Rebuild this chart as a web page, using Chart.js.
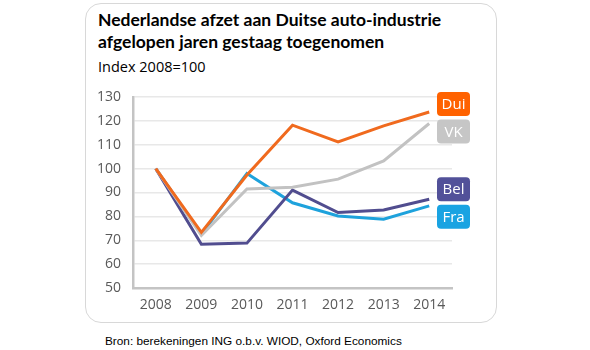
<!DOCTYPE html>
<html>
<head>
<meta charset="utf-8">
<script src="https://cdn.jsdelivr.net/npm/chart.js@4"></script>
<style>
  html, body { margin: 0; padding: 0; background: #fff; }
  body { width: 590px; height: 350px; position: relative; overflow: hidden; }
  .card {
    position: absolute; left: 85px; top: 3px; width: 410px; height: 318px;
    border: 1px solid #d8d8d8; border-radius: 16px; box-sizing: content-box;
  }
  .title {
    position: absolute; left: 98px; top: 9px; margin: 0; white-space: nowrap;
    font-family: Lato, sans-serif; font-weight: bold; font-size: 17.5px;
    line-height: 22px; color: #000;
  }
  .sub {
    position: absolute; left: 98px; top: 57px;
    font-family: "Open Sans", sans-serif; font-size: 14.5px; color: #000;
  }
  .source {
    position: absolute; left: 105px; top: 334px;
    font-family: "Liberation Sans", Arial, sans-serif; font-size: 11.8px; color: #000;
  }
  canvas { position: absolute; left: 0; top: 0; }
</style>
</head>
<body>
<div class="card"></div>
<h1 class="title">Nederlandse afzet aan Duitse auto-industrie<br>afgelopen jaren gestaag toegenomen</h1>
<div class="sub">Index 2008=100</div>
<div class="source">Bron: berekeningen ING o.b.v. WIOD, Oxford Economics</div>
<canvas id="chart" width="590" height="350"></canvas>
<script>
const years = ['2008', '2009', '2010', '2011', '2012', '2013', '2014'];
const dui = [100, 73.3, 97.3, 118.2, 111.2, 117.9, 123.7];
const vk = [100, 72, 91.5, 92.2, 95.6, 103.2, 118.9];
const bel = [100, 68.3, 68.8, 91, 81.6, 82.7, 87.2];
const fra = [100, 72.5, 98, 85.7, 80.2, 78.8, 84.4];
const yTicks = { min: 50, max: 130, step: 10 };

// end-of-line name boxes
const endLabels = {
    id: 'endLabels',
    afterDatasetsDraw(chart, args, opts) {
        const ctx = chart.ctx;
        const area = chart.chartArea;
        chart.data.datasets.forEach((ds, i) => {
            const meta = chart.getDatasetMeta(i);
            const last = meta.data[meta.data.length - 1];
            const cy = last.y + opts.shift[i];
            const x = area.right - 15, w = 33, h = 24;
            ctx.save();
            ctx.fillStyle = ds.boxColor;
            ctx.beginPath();
            ctx.roundRect(x, cy - h / 2, w, h, 4);
            ctx.fill();
            ctx.fillStyle = '#fff';
            ctx.font = '15px "Open Sans", sans-serif';
            ctx.textAlign = 'center';
            ctx.textBaseline = 'middle';
            ctx.fillText(ds.label, x + w / 2, cy + 1);
            ctx.restore();
        });
    }
};

const line = (label, data, color, boxColor) => ({
    label, data, boxColor,
    borderColor: color,
    borderWidth: 3,
    pointRadius: 0,
    tension: 0,
    fill: false,
});

new Chart(document.getElementById('chart'), {
    type: 'line',
    data: {
        labels: years,
        datasets: [
            line('Dui', dui, '#f06a1e', '#ff6200'),
            line('VK', vk, '#c2c2c2', '#c6c6c6'),
            line('Bel', bel, '#514d8f', '#525199'),
            line('Fra', fra, '#1ea2dc', '#19a3e2'),
        ]
    },
    options: {
        responsive: false,
        animation: false,
        layout: { padding: { left: 90, top: 97, right: 138, bottom: 32 } },
        plugins: {
            legend: { display: false },
            tooltip: { enabled: false },
            endLabels: { shift: [-8, 8, -10, 11] },
        },
        scales: {
            x: {
                offset: true,
                grid: { display: false, drawTicks: false },
                border: { display: true, color: '#c4c4c4', width: 2.5 },
                ticks: { color: '#595959', padding: 9, font: { family: 'Open Sans', size: 14 } },
                afterFit: (s) => { s.height = 30; },
            },
            y: {
                min: yTicks.min,
                max: yTicks.max,
                ticks: { stepSize: yTicks.step, color: '#595959', padding: 12, font: { family: 'Open Sans', size: 14 } },
                grid: { color: '#e8e8e8', lineWidth: 1.5, drawTicks: false },
                border: { display: true, color: '#c4c4c4', width: 2.5 },
                afterFit: (s) => { s.width = 43; },
            }
        }
    },
    plugins: [endLabels]
});
</script>
</body>
</html>
